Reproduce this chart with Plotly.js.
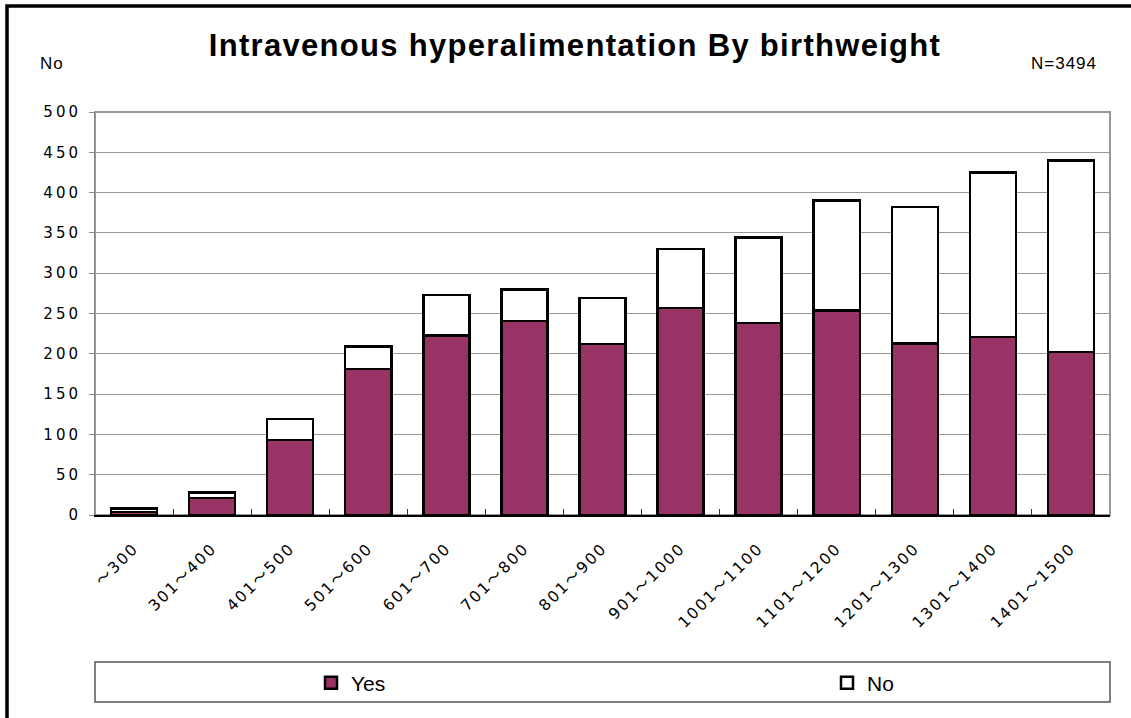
<!DOCTYPE html>
<html><head><meta charset="utf-8">
<script src="https://cdn.plot.ly/plotly-3.0.1.min.js"></script>
<style>
html,body{margin:0;padding:0;background:#fff;}
#chart{width:1131px;height:718px;}
.xtick text{letter-spacing:2px;}
.ytick text{letter-spacing:3px;}
.gtitle{letter-spacing:1.3px;}
.annotation-text{letter-spacing:1px;}
</style>
</head><body><div id="chart"></div>
<script>
const categories = ["～300","301～400","401～500","501～600","601～700","701～800","801～900","901～1000","1001～1100","1101～1200","1201～1300","1301～1400","1401～1500"];
const yesValues = [4,21,93,181,223,241,212,257,238,254,213,221,202];
const noValues  = [4,7,26,28,50,39,57,73,106,136,169,204,238];
const yTicks = [0,50,100,150,200,250,300,350,400,450,500];

const lineStyle = {color:'#000', width:2.5};
const data = [
  {type:'bar', name:'Yes', x:categories, y:yesValues, marker:{color:'#993366', line:lineStyle}, legend:'legend'},
  {type:'bar', name:'No', x:categories, y:noValues, marker:{color:'#ffffff', line:lineStyle}, legend:'legend2'}
];
const tickFont = {family:'DejaVu Sans, Noto Sans CJK JP, sans-serif', size:15.5, color:'#000'};
const legFont = {family:'Liberation Sans Narrow, Liberation Sans, Arial, sans-serif', size:21, color:'#000'};
const W = 1131, H = 718;
const layout = {
  width:W, height:H,
  margin:{l:95, r:21, t:112, b:203},
  barmode:'stack', bargap:0.41,
  paper_bgcolor:'#fff', plot_bgcolor:'#fff',
  showlegend:true,
  title:{text:'<b>Intravenous hyperalimentation By birthweight</b>', font:{family:'Liberation Sans, Arial, sans-serif', size:31, color:'#000'},
    x:575/W, xanchor:'center', xref:'container', y:1-45/H, yanchor:'middle', yref:'container'},
  xaxis:{type:'category', tickangle:-45, tickfont:tickFont, showline:true, linecolor:'#000', linewidth:2,
    ticks:'inside', ticklen:6, tickcolor:'#333', tickson:'boundaries', showgrid:false, fixedrange:true, ticklabelstandoff:16},
  yaxis:{range:[0,500], tickvals:yTicks, tickfont:{family:'DejaVu Sans, sans-serif', size:15, color:'#000'}, showgrid:true, gridcolor:'#999', gridwidth:1,
    showline:true, linecolor:'#888', linewidth:1, ticks:'outside', ticklen:5, tickcolor:'#888', zeroline:false, fixedrange:true, ticklabelstandoff:5},
  legend:{orientation:'h', x:311/W, xanchor:'left', y:1-683/H, yanchor:'middle', xref:'container', yref:'container',
    bgcolor:'rgba(0,0,0,0)', itemwidth:30, font:legFont},
  legend2:{orientation:'h', x:827/W, xanchor:'left', y:1-683/H, yanchor:'middle', xref:'container', yref:'container',
    bgcolor:'rgba(0,0,0,0)', itemwidth:30, font:legFont},
  shapes:[
    {type:'rect', xref:'paper', yref:'paper', x0:0, x1:1, y0:0, y1:1, line:{color:'#999', width:2}, layer:'below'},
    {type:'rect', xref:'paper', yref:'paper', x0:0, x1:1, y0:-(702-515)/403, y1:-(662-515)/403, line:{color:'#555', width:1.5}},
    {type:'rect', xref:'paper', yref:'paper', x0:-(95-7)/1015, x1:1.2, y0:-1, y1:(515-6)/403, line:{color:'#000', width:3.5}}
  ],
  annotations:[
    {text:'No', xref:'paper', yref:'paper', x:-(95-52)/1015, y:(515-64)/403, xanchor:'center', yanchor:'middle', showarrow:false,
      font:{family:'Liberation Sans, Arial, sans-serif', size:17, color:'#000'}},
    {text:'N=3494', xref:'paper', yref:'paper', x:(1064-95)/1015, y:(515-63)/403, xanchor:'center', yanchor:'middle', showarrow:false,
      font:{family:'Liberation Sans, Arial, sans-serif', size:17, color:'#000'}}
  ]
};
Plotly.newPlot('chart', data, layout, {displayModeBar:false, staticPlot:true});
</script></body></html>
